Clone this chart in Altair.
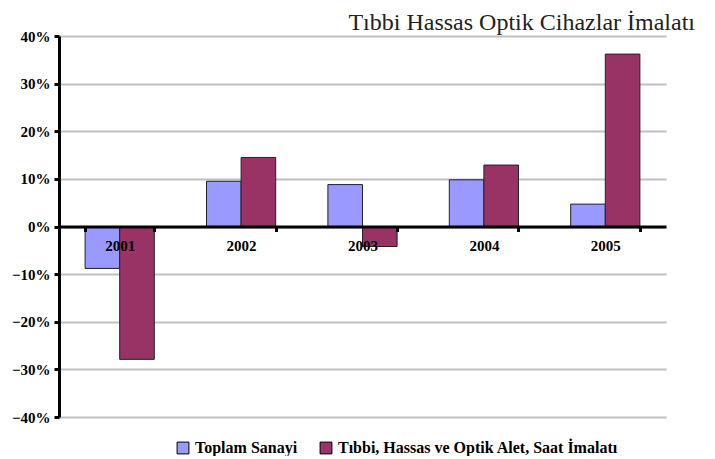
import altair as alt
import pandas as pd

years = ["2001", "2002", "2003", "2004", "2005"]
series_names = ["Toplam Sanayi", "Tıbbi, Hassas ve Optik Alet, Saat  İmalatı"]
toplam = [-0.088, 0.095, 0.088, 0.098, 0.047]
tibbi = [-0.279, 0.145, -0.042, 0.129, 0.362]
colors = ["#9999FF", "#993366"]
title_text = "Tıbbi Hassas Optik Cihazlar İmalatı"

rows = []
for i, y in enumerate(years):
    rows.append({"year": y, "series": series_names[0], "value": toplam[i]})
    rows.append({"year": y, "series": series_names[1], "value": tibbi[i]})
df = pd.DataFrame(rows)

font = "Liberation Serif"

chart = alt.Chart(df).mark_bar(stroke="#222222", strokeWidth=1).encode(
    x=alt.X("year:N", title=None, sort=years,
            scale=alt.Scale(paddingInner=0.43, paddingOuter=0.215),
            axis=alt.Axis(offset=-190.5, tickBand="extent",
                          labelAngle=0, domainColor="black", domainWidth=3,
                          tickColor="black", tickWidth=3, tickSize=5,
                          labelPadding=7, labelFont=font, labelFontWeight="bold",
                          labelFontSize=15, labelColor="black", zindex=1, grid=False)),
    xOffset=alt.XOffset("series:N", sort=series_names, scale=alt.Scale(paddingInner=0)),
    y=alt.Y("value:Q", title=None,
            scale=alt.Scale(domain=[-0.4, 0.4], nice=False),
            axis=alt.Axis(values=[-0.4, -0.3, -0.2, -0.1, 0, 0.1, 0.2, 0.3, 0.4],
                          format=".0%", domainColor="black", domainWidth=3,
                          tickColor="black", tickWidth=3, tickSize=5,
                          labelPadding=4, labelFont=font, labelFontWeight="bold",
                          labelFontSize=15, labelColor="black",
                          gridColor="#C0C0C0", gridWidth=2)),
    color=alt.Color("series:N", sort=series_names,
                    scale=alt.Scale(domain=series_names, range=colors),
                    legend=alt.Legend(title=None, orient="none", direction="horizontal",
                                      legendX=116, legendY=404,
                                      symbolType="square", symbolSize=140,
                                      symbolStrokeColor="black", symbolStrokeWidth=1,
                                      labelFont=font, labelFontWeight="bold",
                                      labelFontSize=16, labelColor="black",
                                      columnPadding=20, labelLimit=400)),
).properties(
    width=607, height=381,
    title=alt.TitleParams(title_text, anchor="end", font=font, fontSize=24,
                          fontWeight="normal", color="#222222", dx=29, offset=-6),
    padding={"left": 3, "top": 3, "right": 4, "bottom": 0},
).configure_view(stroke=None)

chart.save("out.html", embed_options={"renderer": "svg", "actions": False})
